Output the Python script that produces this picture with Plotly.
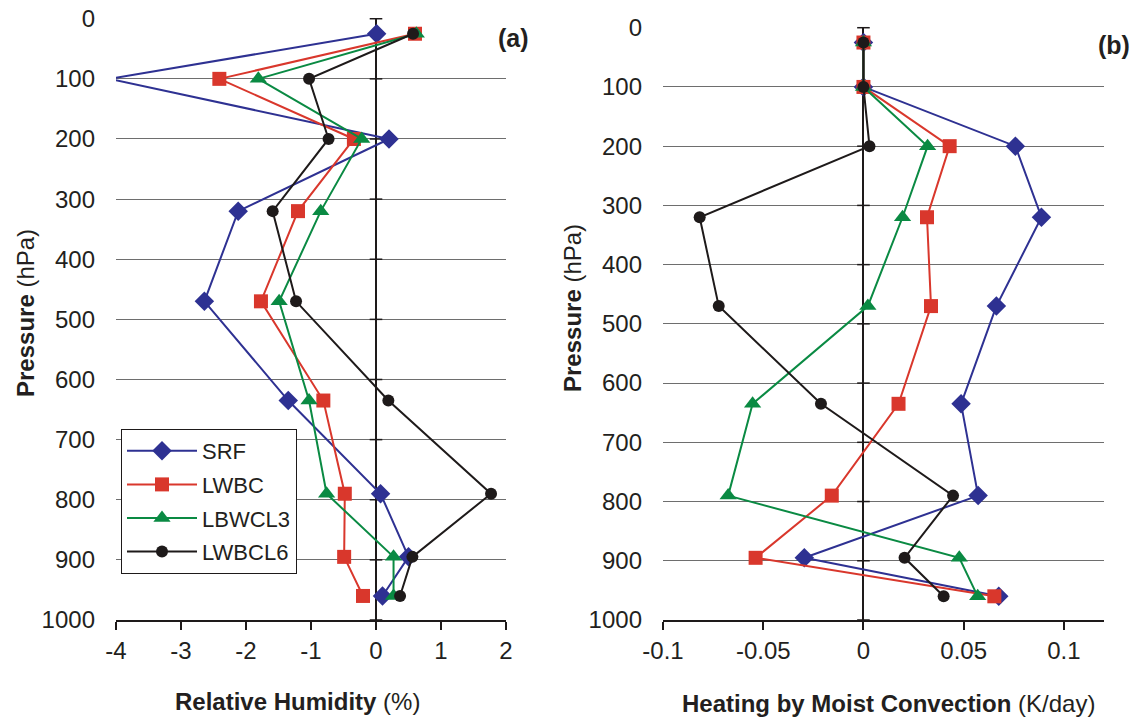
import plotly.graph_objects as go

# ---------------- data ----------------
pressure = [25, 100, 200, 320, 470, 635, 790, 895, 960]
series_names = ["SRF", "LWBC", "LBWCL3", "LWBCL6"]

rh_srf = [0.01, -4.1, 0.2, -2.12, -2.64, -1.35, 0.07, 0.5, 0.1]
rh_lwbc = [0.6, -2.41, -0.34, -1.2, -1.77, -0.81, -0.48, -0.49, -0.2]
rh_lbwcl3 = [0.62, -1.81, -0.22, -0.85, -1.49, -1.03, -0.76, 0.27, 0.27]
rh_lwbcl6 = [0.57, -1.03, -0.73, -1.59, -1.23, 0.19, 1.77, 0.56, 0.37]

heat_srf = [0.0, 0.0, 0.0758, 0.0888, 0.0663, 0.0487, 0.0572, -0.0295, 0.0675]
heat_lwbc = [0.0, 0.0, 0.043, 0.0317, 0.0337, 0.0175, -0.0158, -0.0538, 0.0653]
heat_lbwcl3 = [0.0, 0.0, 0.032, 0.0195, 0.0022, -0.0553, -0.0675, 0.0478, 0.057]
heat_lwbcl6 = [0.0, 0.0, 0.003, -0.0817, -0.0722, -0.0212, 0.0447, 0.0205, 0.04]

y_ticks = [0, 100, 200, 300, 400, 500, 600, 700, 800, 900, 1000]
x1_ticks = [-4, -3, -2, -1, 0, 1, 2]
x1_text = ["-4", "-3", "-2", "-1", "0", "1", "2"]
x2_ticks = [-0.1, -0.05, 0, 0.05, 0.1]
x2_text = ["-0.1", "-0.05", "0", "0.05", "0.1"]

# ---------------- styles ----------------
colors = ["#2E3192", "#D9372C", "#0A8A43", "#1E1A1A"]
symbols = ["diamond", "square", "triangle-up", "circle"]
sizes = [15, 14, 15, 12]
FONT = "Liberation Sans, Arial, sans-serif"
W, H = 1137, 725


def px(x):
    return x / W


def py(y):
    return 1 - y / H


fig = go.Figure()

left_sets = [rh_srf, rh_lwbc, rh_lbwcl3, rh_lwbcl6]
right_sets = [heat_srf, heat_lwbc, heat_lbwcl3, heat_lwbcl6]

# small tick marks on the x=0 vertical axes
for xa, ya in (("x", "y"), ("x2", "y2")):
    fig.add_trace(go.Scatter(
        x=[0] * len(y_ticks), y=y_ticks, mode="markers", xaxis=xa, yaxis=ya,
        marker=dict(symbol="line-ew", size=9, line=dict(width=1.5, color="#1E1A1A")),
        showlegend=False, hoverinfo="skip", cliponaxis=False))

for i, name in enumerate(series_names):
    fig.add_trace(go.Scatter(
        x=left_sets[i], y=pressure, name=name, mode="lines+markers",
        xaxis="x", yaxis="y", legendgroup=name,
        line=dict(color=colors[i], width=2),
        marker=dict(symbol=symbols[i], size=sizes[i], color=colors[i], line=dict(width=0))))
for i, name in enumerate(series_names):
    fig.add_trace(go.Scatter(
        x=right_sets[i], y=pressure, name=name, mode="lines+markers",
        xaxis="x2", yaxis="y2", legendgroup=name, showlegend=False,
        line=dict(color=colors[i], width=2),
        marker=dict(symbol=symbols[i], size=sizes[i], color=colors[i], line=dict(width=0))))

common_x = dict(showgrid=False, zeroline=True, zerolinecolor="#1E1A1A", zerolinewidth=1.5,
                showline=True, linecolor="#1E1A1A", linewidth=1.5, ticks="outside",
                ticklen=8, tickwidth=1.5, tickcolor="#1E1A1A", automargin=False,
                ticklabeloverflow="allow",
                tickfont=dict(size=24, color="#231F20", family=FONT))
common_y = dict(autorange=False, range=[1000, -1.2], tickvals=y_ticks, showgrid=True,
                gridcolor="#6E6E6E", gridwidth=1, zeroline=False, showline=False,
                ticks="", ticklabelstandoff=20, automargin=False,
                ticklabeloverflow="allow",
                tickfont=dict(size=24, color="#231F20", family=FONT))

fig.update_layout(
    width=W, height=H, autosize=False,
    margin=dict(l=0, r=0, t=0, b=0),
    paper_bgcolor="white", plot_bgcolor="white",
    font=dict(family=FONT, color="#231F20"),
    xaxis=dict(domain=[px(116), px(506)], range=[-4, 2], tickvals=x1_ticks,
               ticktext=x1_text, anchor="y", **common_x),
    yaxis=dict(domain=[py(620), py(18)], anchor="x", **common_y),
    xaxis2=dict(domain=[px(663), px(1104)], range=[-0.1, 0.12], tickvals=x2_ticks,
                ticktext=x2_text, anchor="y2", **common_x),
    yaxis2=dict(domain=[py(620), py(27)], anchor="x2", **common_y),
    showlegend=True,
    legend=dict(x=px(121), y=py(429), xanchor="left", yanchor="top",
                bgcolor="white", bordercolor="#1E1A1A", borderwidth=1,
                font=dict(size=22, family=FONT, color="#231F20"),
                traceorder="grouped", tracegroupgap=2, itemwidth=70),
)

ann = [
    dict(text="<b>Pressure</b> (hPa)", x=px(25), y=py(313), textangle=-90),
    dict(text="<b>Pressure</b> (hPa)", x=px(572), y=py(308), textangle=-90),
    dict(text="<b>Relative Humidity</b> (%)", x=px(297), y=py(701)),
    dict(text="<b>Heating by Moist Convection</b> (K/day)", x=px(888), y=py(703)),
]
for a in ann:
    fig.add_annotation(xref="paper", yref="paper", showarrow=False,
                       xanchor="center", yanchor="middle",
                       font=dict(size=24, family=FONT, color="#231F20"), **a)
fig.add_annotation(xref="paper", yref="paper", showarrow=False, text="<b>(a)</b>",
                   x=px(513), y=py(38), xanchor="center", yanchor="middle",
                   font=dict(size=25, family=FONT, color="#231F20"))
fig.add_annotation(xref="paper", yref="paper", showarrow=False, text="<b>(b)</b>",
                   x=px(1114), y=py(45), xanchor="center", yanchor="middle",
                   font=dict(size=25, family=FONT, color="#231F20"))

fig.write_html("out.html", config={"displayModeBar": False},
               post_script="document.body.style.margin='0';document.body.style.overflow='hidden';")
